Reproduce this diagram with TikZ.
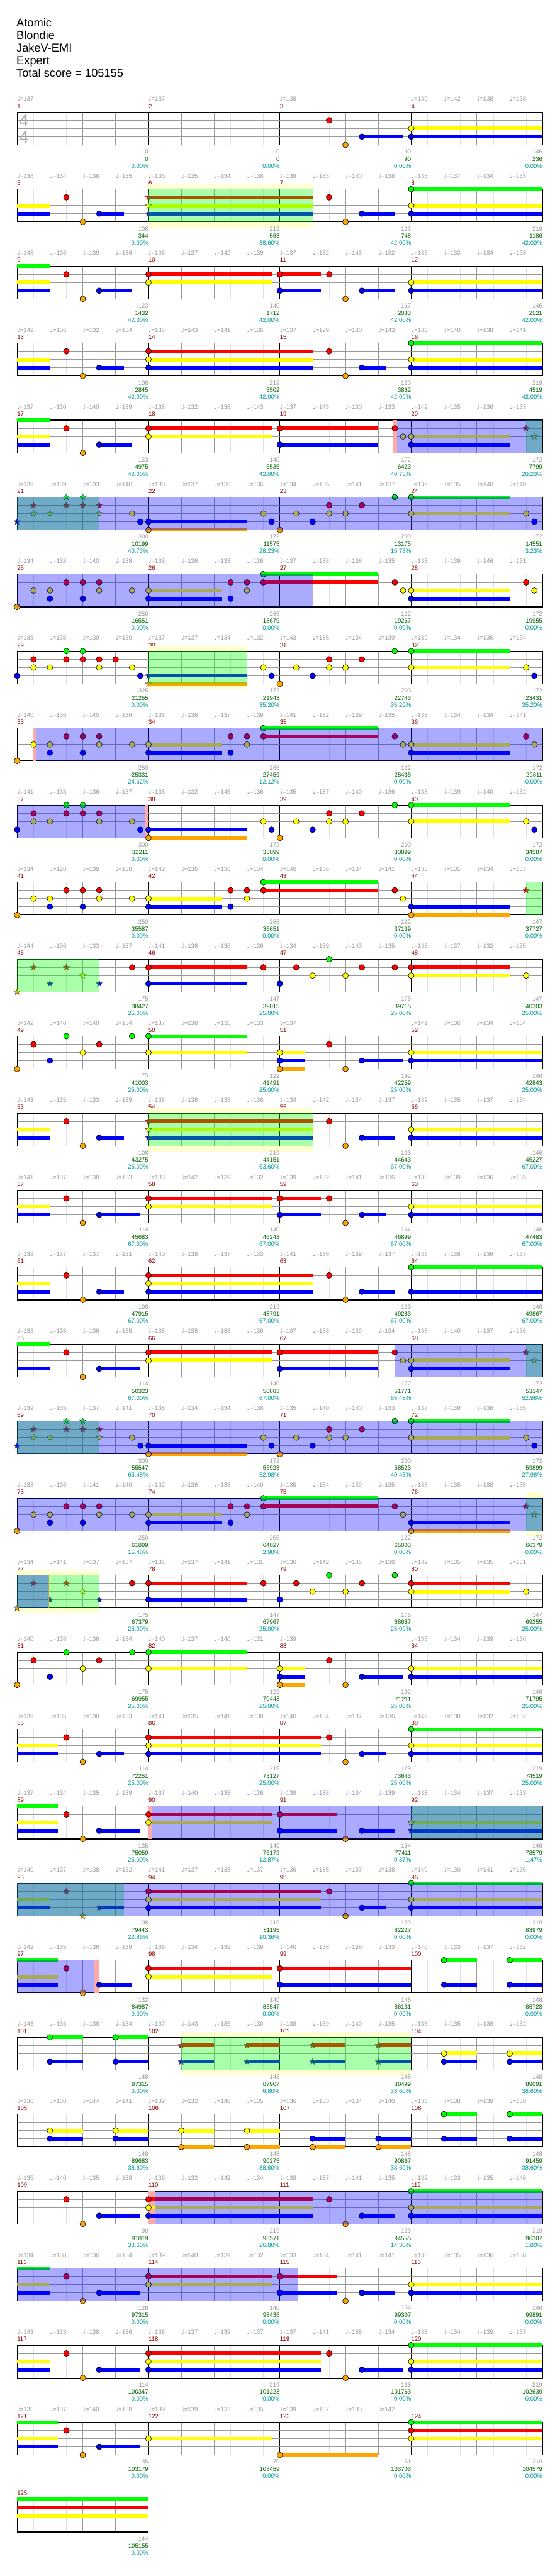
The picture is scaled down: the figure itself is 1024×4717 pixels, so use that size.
\documentclass[tikz,border=0pt]{standalone}
\usepackage{fontspec}
\setmainfont{Liberation Sans}
\newfontfamily\dejavu{DejaVu Sans}
\usetikzlibrary{shapes.geometric}

\definecolor{noteG}{HTML}{00FF00}
\definecolor{noteR}{HTML}{FF0000}
\definecolor{noteY}{HTML}{FFFF00}
\definecolor{noteB}{HTML}{0000FF}
\definecolor{noteO}{HTML}{FFA500}
\colorlet{lane0}{noteG}
\colorlet{lane1}{noteR}
\colorlet{lane2}{noteY}
\colorlet{lane3}{noteB}
\colorlet{lane4}{noteO}
\definecolor{txtgray}{HTML}{999999}
\definecolor{scoregreen}{HTML}{006400}
\definecolor{pctteal}{HTML}{009999}
\definecolor{barred}{HTML}{8B0000}
\definecolor{boxyellow}{HTML}{FFFFD2}
\definecolor{pinkband}{HTML}{FFAAAA}
\definecolor{gridlight}{HTML}{E0E0E0}
\definecolor{gridmid}{HTML}{999999}
\definecolor{endmark}{HTML}{C8A050}

\newcommand\qn{{\dejavu\char"2669}}

\tikzset{
  chartrow/.style={xshift=31.3pt, yshift=-205.3pt-141pt*#1},
  note/.style={circle, draw=black, line width=0.7pt, inner sep=0pt, minimum size=10.5pt},
  spnote/.style={star, star points=5, star point ratio=2.3, draw=black!75, line width=0.5pt, inner sep=0pt, minimum size=12pt},
  small/.style={inner sep=0pt, font=\fontsize{11pt}{11pt}\selectfont},
  tempo/.style={small, anchor=west, text=txtgray},
  barnum/.style={small, anchor=west, text=barred},
  gain/.style={small, anchor=east, text=txtgray},
  total/.style={small, anchor=east, text=scoregreen},
  pct/.style={small, anchor=east, text=pctteal},
  title/.style={anchor=base west, inner sep=0pt, font=\fontsize{21pt}{21pt}\selectfont},
  timesig/.style={inner sep=0pt, text=black!33, font=\fontsize{32pt}{32pt}\selectfont},
}

\newcommand\staff[1]{%
  \fill[white] (0,0) rectangle (#1,4);
  \pgfmathtruncatemacro\lastline{#1-1}
  \foreach \e in {1,...,\lastline}{%
    \pgfmathtruncatemacro\inbar{mod(\e,8)}
    \ifnum\inbar=0 \draw[black, line width=0.8pt] (\e,0) -- (\e,4);
    \else\ifodd\e \draw[gridlight, line width=0.8pt] (\e,0) -- (\e,4);
    \else \draw[gridmid, line width=0.8pt] (\e,0) -- (\e,4);\fi\fi}
  \foreach \l in {1,2,3} \draw[gridmid, line width=0.8pt] (0,\l) -- (#1,\l);
  \draw[line width=1.3pt] (0,0) rectangle (#1,4);
}
\newcommand\bars[1]{\foreach \j in {0,...,3}{\pgfmathtruncatemacro\bn{#1+\j}\node[barnum] at (8*\j,-0.73) {\bn};}}
\newcommand\tempos[1]{\foreach \t [count=\i from 0] in {#1}{\if-\t\else\node[tempo] at (2*\i,-1.6) {\qn=\t};\fi}}
\newcommand\scores[1]{\foreach \a/\b/\c [count=\m] in {#1}{%
  \node[gain] at (8*\m,4.85) {\a};
  \node[total] at (8*\m,5.73) {\b};
  \node[pct] at (8*\m,6.58) {\c\%};}}
\newcommand\sust[1]{\foreach \a/\b/\l in {#1} \fill[lane\l] (\a,\l-0.22) rectangle (\b,\l+0.22);}
\newcommand\notes[1]{\foreach \e/\l in {#1} \node[note, fill=lane\l] at (\e,\l) {};}
\newcommand\stars[1]{\foreach \e/\l in {#1} \node[spnote, fill=lane\l] at (\e,\l) {};}
\newcommand\spower[1]{\foreach \a/\b in {#1} \fill[noteG, opacity=0.333] (\a,0) rectangle (\b,4);}
\newcommand\odrive[1]{\foreach \a/\b in {#1} \fill[noteB, opacity=0.333] (\a,0) rectangle (\b,4);}
\newcommand\ybox[1]{\foreach \a/\b in {#1} \fill[boxyellow] (\a,-0.67) rectangle (\b,4.67);}
\newcommand\pinkband[1]{\foreach \a/\b in {#1} \fill[pinkband] (\a,0) rectangle (\b,4);}

\begin{document}
\begin{tikzpicture}[x=30.05pt, y=-15pt]
\fill[white] (0pt,0pt) rectangle (1024pt,-4717pt);
\useasboundingbox (0pt,0pt) rectangle (1024pt,-4717pt);

\node[title] at (30pt,-49.3pt) {Atomic};
\node[title] at (30pt,-72.3pt) {Blondie};
\node[title] at (30pt,-95.3pt) {JakeV-EMI};
\node[title] at (30pt,-118.3pt) {Expert};
\node[title] at (30pt,-141.3pt) {Total score = 105155};

% bars 1-4
\begin{scope}[chartrow=0]
  \bars{1}
  \tempos{137,-,-,-,137,-,-,-,138,-,-,-,139,142,138,138}
  \staff{32}
  \node[timesig] at (0.42,1.03) {4};
  \node[timesig] at (0.42,3.03) {4};
  \sust{21/23.5/3, 24/32/2, 24/32/3}
  \notes{19/1, 20/4, 21/3, 24/2, 24/3}
  \scores{0/0/0.00, 0/0/0.00, 90/90/0.00, 146/236/0.00}
\end{scope}

% bars 5-8
\begin{scope}[chartrow=1]
  \bars{5}
  \tempos{136,134,138,135,135,135,134,138,139,133,140,138,135,137,134,133}
  \ybox{8/18}
  \staff{32}
  \sust{0/2/2, 0/2/3, 5/6.5/3, 8/18/1, 8/18/2, 8/18/3, 21/23/3, 24/32/0, 24/32/2, 24/32/3}
  \notes{3/1, 4/4, 5/3, 19/1, 20/4, 21/3, 24/0, 24/2, 24/3}
  \stars{8/1, 8/2, 8/3}
  \spower{8/18}
  \scores{108/344/0.00, 219/563/38.60, 123/748/42.00, 219/1186/42.00}
\end{scope}

% bars 9-12
\begin{scope}[chartrow=2]
  \bars{9}
  \tempos{145,136,139,136,136,137,142,139,137,132,143,132,136,133,134,133}
  \staff{32}
  \sust{0/2/0, 0/2/2, 0/2/3, 5/7/3, 8/15.5/1, 8/15.5/2, 16/18.5/1, 16/18.5/3, 21/23/3, 24/32/2, 24/32/3}
  \notes{3/1, 4/4, 5/3, 8/1, 8/2, 16/1, 16/3, 19/1, 20/4, 21/3, 24/2, 24/3}
  \scores{123/1432/42.00, 140/1712/42.00, 167/2083/42.00, 146/2521/42.00}
\end{scope}

% bars 13-16
\begin{scope}[chartrow=3]
  \bars{13}
  \tempos{149,136,132,134,135,143,141,136,137,129,130,143,135,140,138,141}
  \staff{32}
  \sust{0/2/2, 0/2/3, 5/6.5/3, 8/18/1, 8/18/2, 8/18/3, 21/22.5/3, 24/32/0, 24/32/2, 24/32/3}
  \notes{3/1, 4/4, 5/3, 8/1, 8/2, 8/3, 19/1, 20/4, 21/3, 24/0, 24/2, 24/3}
  \scores{108/2845/42.00, 219/3502/42.00, 120/3862/42.00, 219/4519/42.00}
\end{scope}

% bars 17-20
\begin{scope}[chartrow=4]
  \bars{17}
  \tempos{137,130,140,139,138,132,138,143,137,143,130,133,142,135,136,133}
  \staff{32}
  \pinkband{22.92/23.14}
  \sust{0/2/0, 0/2/2, 0/2/3, 5/7/3, 8/15.5/1, 8/15.5/2, 16/22/1, 16/22/3, 24/30/2, 24/30/3}
  \notes{3/1, 4/4, 5/3, 8/1, 8/2, 16/1, 16/3, 23/1, 23.5/2, 24/2, 24/3}
  \stars{31/1, 31.5/2}
  \spower{31/32}
  \odrive{23.14/32}
  \scores{123/4975/42.00, 140/5535/42.00, 172/6423/40.73, 172/7799/28.23}
\end{scope}

% bars 21-24
\begin{scope}[chartrow=5]
  \bars{21}
  \tempos{139,139,133,140,138,137,136,136,134,135,141,137,132,135,140,140}
  \staff{32}
  \sust{8/14/3, 8/14/4, 24/30/0, 24/30/2}
  \notes{7/2, 7.5/3, 8/3, 8/4, 15/2, 15.5/3, 16/4, 17/2, 18/3, 19/1, 19/2, 20/2, 21/1, 23/0, 24/0, 24/2, 31/2, 31.5/3}
  \stars{0/3, 1/1, 1/2, 2/2, 3/0, 3/1, 4/0, 4/1, 5/1, 5/2}
  \spower{0/5}
  \odrive{0/32}
  \scores{300/10199/40.73, 172/11575/28.23, 200/13175/15.73, 172/14551/3.23}
\end{scope}

% bars 25-28
\begin{scope}[chartrow=6]
  \bars{25}
  \tempos{134,138,140,138,135,136,133,136,137,138,138,135,133,139,146,131}
  \staff{32}
  \sust{8/12.5/2, 8/12.5/3, 15/22/0, 15/22/1, 24/30/2, 24/30/3}
  \notes{0/4, 1/2, 2/2, 2/3, 3/1, 4/1, 4/3, 5/1, 5/2, 7/2, 8/2, 8/3, 13/1, 13/3, 14/1, 14/2, 15/0, 15/1, 23/1, 23.5/2, 24/2, 24/3, 31/1, 31.5/2}
  \odrive{0/18}
  \scores{250/16551/0.00, 266/18679/0.00, 122/19267/0.00, 172/19955/0.00}
\end{scope}

% bars 29-32
\begin{scope}[chartrow=7]
  \bars{29}
  \tempos{135,135,139,139,137,137,134,132,143,136,134,139,139,134,136,134}
  \ybox{8/14}
  \staff{32}
  \sust{8/14/3, 8/14/4, 24/30/0, 24/30/2}
  \notes{0/3, 1/1, 1/2, 2/2, 3/0, 3/1, 4/0, 4/1, 5/1, 5/2, 6/1, 7/2, 7.5/3, 15/2, 15.5/3, 16/4, 17/2, 18/3, 19/1, 19/2, 20/2, 21/1, 23/0, 24/0, 24/2, 31/2, 31.5/3}
  \stars{8/3, 8/4}
  \spower{8/14}
  \scores{325/21255/0.00, 172/21943/35.20, 200/22743/35.20, 172/23431/35.20}
\end{scope}

% bars 33-36
\begin{scope}[chartrow=8]
  \bars{33}
  \tempos{140,136,140,136,138,136,137,139,141,132,139,135,138,134,134,141}
  \staff{32}
  \pinkband{0.97/1.17}
  \sust{8/12.5/2, 8/12.5/3, 15/22/0, 15/22/1, 24/30/2, 24/30/3}
  \notes{0/4, 1/2, 2/2, 2/3, 3/1, 4/1, 4/3, 5/1, 5/2, 7/2, 8/2, 8/3, 13/1, 13/3, 14/1, 14/2, 15/0, 15/1, 23/1, 23.5/2, 24/2, 24/3, 31/1, 31.5/2}
  \odrive{1.17/32}
  \scores{250/25331/24.62, 266/27459/12.12, 122/28435/0.00, 172/29811/0.00}
\end{scope}

% bars 37-40
\begin{scope}[chartrow=9]
  \bars{37}
  \tempos{141,133,136,137,135,132,145,136,135,137,140,136,138,139,140,132}
  \staff{32}
  \pinkband{7.77/8}
  \sust{8/14/3, 8/14/4, 24/30/0, 24/30/2}
  \notes{0/3, 1/1, 1/2, 2/2, 3/0, 3/1, 4/0, 4/1, 5/1, 5/2, 7/2, 7.5/3, 8/3, 8/4, 15/2, 15.5/3, 16/4, 17/2, 18/3, 19/1, 19/2, 20/2, 21/1, 23/0, 24/0, 24/2, 31/2, 31.5/3}
  \odrive{0/7.77}
  \scores{300/32211/0.00, 172/33099/0.00, 200/33899/0.00, 172/34587/0.00}
\end{scope}

% bars 41-44
\begin{scope}[chartrow=10]
  \bars{41}
  \tempos{134,128,139,138,142,136,136,134,140,136,134,141,133,135,134,137}
  \staff{32}
  \sust{8/12.5/2, 8/12.5/3, 15/22/0, 15/22/1, 24/30/3, 24/30/4}
  \notes{0/4, 1/2, 2/2, 2/3, 3/1, 4/1, 4/3, 5/1, 5/2, 7/2, 8/2, 8/3, 13/1, 13/3, 14/1, 14/2, 15/0, 15/1, 23/1, 23.5/2, 24/3, 24/4}
  \stars{31/1}
  \spower{31/32}
  \scores{250/35587/0.00, 266/36651/0.00, 122/37139/0.00, 147/37727/0.00}
\end{scope}

% bars 45-48
\begin{scope}[chartrow=11]
  \bars{45}
  \tempos{144,136,133,137,141,136,136,136,134,139,143,135,136,137,132,135}
  \staff{32}
  \sust{8/14/1, 8/14/3, 24/30/1, 24/30/2}
  \notes{7/1, 8/1, 8/3, 15/1, 16/3, 17/1, 18/2, 19/0, 20/2, 21/1, 23/1, 24/1, 24/2, 31/2}
  \stars{0/4, 1/1, 2/3, 3/1, 4/2, 5/3}
  \spower{0/5}
  \scores{175/38427/25.00, 147/39015/25.00, 175/39715/25.00, 147/40303/25.00}
\end{scope}

% bars 49-52
\begin{scope}[chartrow=12]
  \bars{49}
  \tempos{142,140,140,134,137,138,135,133,137,-,-,-,141,136,134,134}
  \staff{32}
  \sust{8/14/0, 8/14/2, 16/17.5/2, 16/17.5/3, 16/17.5/4, 21/23.5/3, 24/32/2, 24/32/3}
  \notes{0/4, 1/1, 2/3, 3/0, 4/2, 5/1, 7/0, 8/0, 8/2, 16/2, 16/3, 16/4, 19/1, 20/4, 21/3, 24/2, 24/3}
  \scores{175/41003/25.00, 122/41491/25.00, 192/42259/25.00, 146/42843/25.00}
\end{scope}

% bars 53-56
\begin{scope}[chartrow=13]
  \bars{53}
  \tempos{143,135,133,139,138,138,135,136,134,142,134,137,139,135,137,134}
  \ybox{8/18}
  \staff{32}
  \sust{0/2/2, 0/2/3, 5/6.5/3, 8/18/1, 8/18/2, 8/18/3, 21/23/3, 24/32/2, 24/32/3}
  \notes{3/1, 4/4, 5/3, 19/1, 20/4, 21/3, 24/2, 24/3}
  \stars{8/1, 8/2, 8/3}
  \spower{8/18}
  \scores{108/43275/25.00, 219/44151/63.60, 123/44643/67.00, 146/45227/67.00}
\end{scope}

% bars 57-60
\begin{scope}[chartrow=14]
  \bars{57}
  \tempos{141,137,138,133,133,142,139,132,139,132,141,136,136,139,136,135}
  \staff{32}
  \sust{0/2/2, 0/2/3, 5/7.5/3, 8/15.5/1, 8/15.5/2, 16/18.5/1, 16/18.5/3, 21/22.5/3, 24/32/2, 24/32/3}
  \notes{3/1, 4/4, 5/3, 8/1, 8/2, 16/1, 16/3, 19/1, 20/4, 21/3, 24/2, 24/3}
  \scores{114/45683/67.00, 140/46243/67.00, 164/46899/67.00, 146/47483/67.00}
\end{scope}

% bars 61-64
\begin{scope}[chartrow=15]
  \bars{61}
  \tempos{138,137,137,131,140,138,137,133,141,136,139,137,136,138,136,137}
  \staff{32}
  \sust{0/2/2, 0/2/3, 5/6.5/3, 8/18/1, 8/18/2, 8/18/3, 21/23/3, 24/32/0, 24/32/3}
  \notes{3/1, 4/4, 5/3, 8/1, 8/2, 8/3, 19/1, 20/4, 21/3, 24/0, 24/3}
  \scores{108/47915/67.00, 219/48791/67.00, 123/49283/67.00, 146/49867/67.00}
\end{scope}

% bars 65-68
\begin{scope}[chartrow=16]
  \bars{65}
  \tempos{136,138,136,135,135,138,138,136,137,133,139,134,138,140,137,136}
  \staff{32}
  \sust{0/2/0, 0/2/3, 5/7.5/3, 8/15.5/1, 8/15.5/2, 16/22/1, 16/22/3, 24/30/2, 24/30/3}
  \notes{3/1, 4/4, 5/3, 8/1, 8/2, 16/1, 16/3, 23/1, 23.5/2, 24/2, 24/3}
  \stars{31/1, 31.5/2}
  \spower{31/32}
  \odrive{23/32}
  \scores{114/50323/67.00, 140/50883/67.00, 172/51771/65.48, 172/53147/52.98}
\end{scope}

% bars 69-72
\begin{scope}[chartrow=17]
  \bars{69}
  \tempos{139,135,137,141,138,134,134,138,135,140,140,133,137,139,136,135}
  \staff{32}
  \sust{8/14/3, 8/14/4, 24/30/0, 24/30/2}
  \notes{7/2, 7.5/3, 8/3, 8/4, 15/2, 15.5/3, 16/4, 17/2, 18/3, 19/1, 19/2, 20/2, 21/1, 23/0, 24/0, 24/2, 31/2, 31.5/3}
  \stars{0/3, 1/1, 1/2, 2/2, 3/0, 3/1, 4/0, 4/1, 5/1, 5/2}
  \spower{0/5}
  \odrive{0/32}
  \scores{300/55547/65.48, 172/56923/52.98, 200/58523/40.48, 172/59899/27.98}
\end{scope}

% bars 73-76
\begin{scope}[chartrow=18]
  \bars{73}
  \tempos{138,136,141,140,132,136,135,140,135,134,139,135,138,135,138,135}
  \ybox{31/32}
  \staff{32}
  \sust{8/12.5/2, 8/12.5/3, 15/22/0, 15/22/1, 24/30/3, 24/30/4}
  \notes{0/4, 1/2, 2/2, 2/3, 3/1, 4/1, 4/3, 5/1, 5/2, 7/2, 8/2, 8/3, 13/1, 13/3, 14/1, 14/2, 15/0, 15/1, 23/1, 23.5/2, 24/3, 24/4}
  \stars{31/1, 31.5/2}
  \spower{31/32}
  \odrive{0/32}
  \scores{250/61899/15.48, 266/64027/2.98, 122/65003/0.00, 172/66379/0.00}
\end{scope}

% bars 77-80
\begin{scope}[chartrow=19]
  \bars{77}
  \tempos{134,141,137,137,136,137,141,131,136,142,135,138,139,135,135,131}
  \ybox{0/5}
  \staff{32}
  \sust{8/14/1, 8/14/3, 24/30/1, 24/30/2}
  \notes{7/1, 8/1, 8/3, 15/1, 16/3, 17/1, 18/2, 19/0, 20/2, 21/1, 23/0, 24/1, 24/2, 31/2}
  \stars{0/4, 1/1, 2/3, 3/1, 4/2, 5/3}
  \spower{0/5}
  \odrive{0/1.92}
  \draw[endmark, line width=1.5pt] (1.93,0) -- (1.93,4);
  \scores{175/67379/25.00, 147/67967/25.00, 175/68667/25.00, 147/69255/25.00}
\end{scope}

% bars 81-84
\begin{scope}[chartrow=20]
  \bars{81}
  \tempos{140,138,136,134,140,137,140,131,139,-,-,-,138,134,139,136}
  \staff{32}
  \sust{8/14/0, 8/14/2, 16/17.5/2, 16/17.5/3, 16/17.5/4, 21/23.5/3, 24/32/2, 24/32/3}
  \notes{0/4, 1/1, 2/3, 3/0, 4/2, 5/1, 7/0, 8/0, 8/2, 16/2, 16/3, 16/4, 19/1, 20/4, 21/3, 24/2, 24/3}
  \scores{175/69955/25.00, 122/70443/25.00, 192/71211/25.00, 146/71795/25.00}
\end{scope}

% bars 85-88
\begin{scope}[chartrow=21]
  \bars{85}
  \tempos{139,135,138,133,141,135,141,138,140,134,137,136,142,138,132,137}
  \staff{32}
  \sust{0/2.5/2, 0/2.5/3, 5/6.5/3, 8/18.5/1, 8/18.5/2, 8/18.5/3, 21/22.5/3, 24/32/0, 24/32/2, 24/32/3}
  \notes{3/1, 4/4, 5/3, 8/1, 8/2, 8/3, 19/1, 20/4, 21/3, 24/0, 24/2, 24/3}
  \scores{114/72251/25.00, 219/73127/25.00, 129/73643/25.00, 219/74519/25.00}
\end{scope}

% bars 89-92
\begin{scope}[chartrow=22]
  \bars{89}
  \tempos{137,134,135,139,137,140,135,136,139,138,134,139,138,134,137,133}
  \staff{32}
  \pinkband{8/8.2}
  \sust{0/2.5/0, 0/2.5/2, 0/2.5/3, 5/7.5/3, 8/15.5/1, 8/15.5/2, 16/19.5/1, 16/19.5/3, 21/23/3, 24/32/2, 24/32/3}
  \notes{3/1, 4/4, 5/3, 8/1, 8/2, 16/1, 16/3, 20/4, 21/3}
  \stars{24/2, 24/3}
  \spower{24/32}
  \odrive{8.2/32}
  \scores{135/75059/25.00, 140/76179/12.87, 154/77411/0.37, 146/78579/1.47}
\end{scope}

% bars 93-96
\begin{scope}[chartrow=23]
  \bars{93}
  \tempos{140,137,138,132,141,137,138,137,136,135,137,138,140,130,141,136}
  \staff{32}
  \sust{0/2/2, 0/2/3, 5/6.5/3, 8/18.5/1, 8/18.5/2, 8/18.5/3, 21/22.5/3, 24/32/0, 24/32/2, 24/32/3}
  \notes{8/1, 8/2, 8/3, 19/1, 20/4, 21/3, 24/0, 24/2, 24/3}
  \stars{3/1, 4/4, 5/3}
  \spower{0/6.5}
  \odrive{0/32}
  \scores{108/79443/22.86, 219/81195/10.36, 129/82227/0.00, 219/83979/0.00}
\end{scope}

% bars 97-100
\begin{scope}[chartrow=24]
  \bars{97}
  \tempos{142,135,136,139,136,134,139,139,140,138,138,133,140,133,137,132}
  \staff{32}
  \pinkband{4.72/4.98}
  \sust{0/2.5/0, 0/2.5/2, 0/2.5/3, 5/7/3, 8/15.5/1, 8/15.5/2, 16/24/1, 16/24/3, 26/28/0, 26/28/3, 30/32/0, 30/32/3}
  \notes{3/1, 4/4, 5/3, 8/1, 8/2, 16/1, 16/3, 26/0, 26/3, 30/0, 30/3}
  \odrive{0/4.72}
  \scores{132/84987/0.00, 140/85547/0.00, 146/86131/0.00, 148/86723/0.00}
\end{scope}

% bars 101-104
\begin{scope}[chartrow=25]
  \bars{101}
  \tempos{145,136,138,134,137,143,135,130,138,139,140,135,135,135,136,132}
  \ybox{10/24}
  \staff{32}
  \sust{2/4/0, 2/4/3, 6/8/0, 6/8/3, 10/12/1, 10/12/3, 14/16/1, 14/16/3, 18/20/1, 18/20/3, 22/24/1, 22/24/3, 26/28/2, 26/28/3, 30/32/2, 30/32/3}
  \notes{2/0, 2/3, 6/0, 6/3, 26/2, 26/3, 30/2, 30/3}
  \stars{10/1, 10/3, 14/1, 14/3, 18/1, 18/3, 22/1, 22/3}
  \spower{10/24}
  \scores{148/87315/0.00, 148/87907/6.80, 148/88499/38.60, 148/89091/38.60}
\end{scope}

% bars 105-108
\begin{scope}[chartrow=26]
  \bars{105}
  \tempos{136,138,144,141,139,132,140,135,136,133,134,140,136,138,139,138}
  \staff{32}
  \sust{2/4/2, 2/4/3, 6/8/2, 6/8/3, 10/12/2, 10/12/4, 14/16/2, 14/16/4, 18/20/3, 18/20/4, 22/24/3, 22/24/4, 26/28/0, 26/28/3, 30/32/0, 30/32/3}
  \notes{2/2, 2/3, 6/2, 6/3, 10/2, 10/4, 14/2, 14/4, 18/3, 18/4, 22/3, 22/4, 26/0, 26/3, 30/0, 30/3}
  \scores{148/89683/38.60, 148/90275/38.60, 148/90867/38.60, 148/91459/38.60}
\end{scope}

% bars 109-112
\begin{scope}[chartrow=27]
  \bars{109}
  \tempos{135,140,135,138,136,132,142,134,138,137,141,135,139,133,135,146}
  \staff{32}
  \pinkband{8/8.42}
  \sust{5/7.5/3, 8/18/1, 8/18/2, 8/18/3, 21/23/3, 24/32/0, 24/32/2, 24/32/3}
  \notes{3/1, 4/4, 5/3, 8/1, 8/2, 8/3, 19/1, 20/4, 21/3, 24/0, 24/2, 24/3}
  \odrive{8.42/32}
  \scores{90/91819/38.60, 219/93571/26.80, 123/94555/14.30, 219/96307/1.80}
\end{scope}

% bars 113-116
\begin{scope}[chartrow=28]
  \bars{113}
  \tempos{134,138,136,134,139,140,139,132,133,134,141,141,136,135,136,138}
  \staff{32}
  \sust{0/2/0, 0/2/2, 0/2/3, 5/7.5/3, 8/15.5/1, 8/15.5/2, 16/19.5/1, 16/19.5/3, 21/23/3, 24/32/2, 24/32/3}
  \notes{3/1, 4/4, 5/3, 8/1, 8/2, 16/1, 16/3, 20/4, 21/3, 24/2, 24/3}
  \odrive{0/17.13}
  \scores{126/97315/0.00, 140/98435/0.00, 154/99307/0.00, 146/99891/0.00}
\end{scope}

% bars 117-120
\begin{scope}[chartrow=29]
  \bars{117}
  \tempos{143,133,138,136,138,137,139,137,137,141,138,134,133,134,139,137}
  \staff{32}
  \sust{0/2/2, 0/2/3, 5/7.5/3, 8/18.5/1, 8/18.5/2, 8/18.5/3, 21/23.5/3, 24/32/0, 24/32/2, 24/32/3}
  \notes{3/1, 4/4, 5/3, 8/1, 8/2, 8/3, 19/1, 20/4, 21/3, 24/0, 24/2, 24/3}
  \scores{114/100347/0.00, 219/101223/0.00, 135/101763/0.00, 219/102639/0.00}
\end{scope}

% bars 121-124
\begin{scope}[chartrow=30]
  \bars{121}
  \tempos{135,137,140,138,139,139,133,135,139,137,135,142}
  \staff{32}
  \sust{0/2.5/0, 0/2.5/2, 0/2.5/3, 5/7.5/3, 8/15.5/2, 16/22/4, 24/32/0, 24/32/1, 24/32/2}
  \notes{3/1, 4/4, 5/3, 8/2, 16/4, 24/0, 24/1, 24/2}
  \scores{135/103179/0.00, 70/103459/0.00, 61/103703/0.00, 219/104579/0.00}
\end{scope}

% bar 125
\begin{scope}[chartrow=31]
  \node[barnum] at (0,-0.73) {125};
  \staff{8}
  \sust{0/8/0, 0/8/1, 0/8/2}
  \scores{144/105155/0.00}
\end{scope}

\end{tikzpicture}
\end{document}
